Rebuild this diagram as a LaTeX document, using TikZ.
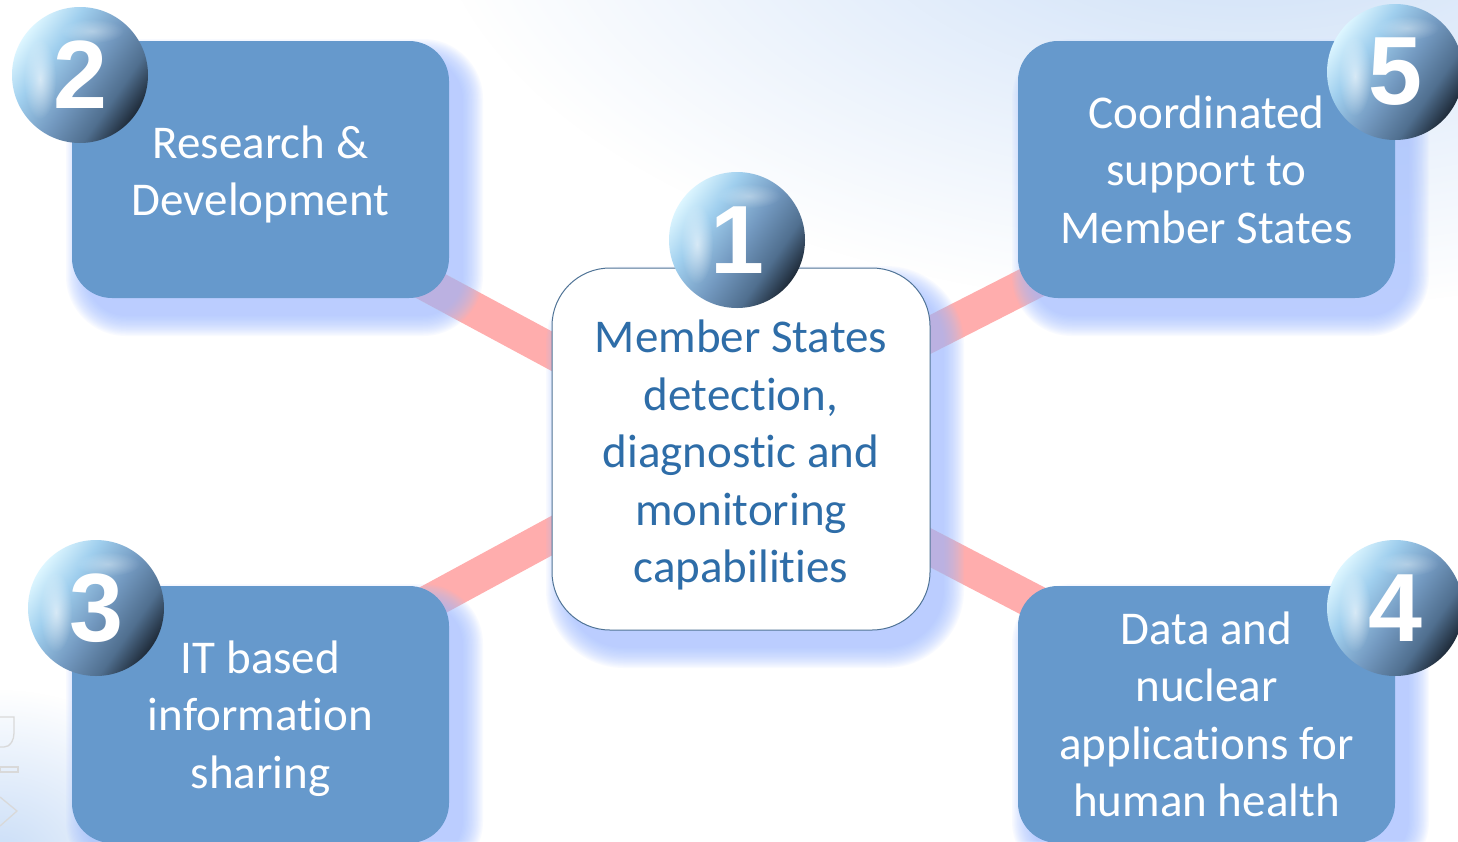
\documentclass[tikz,border=0pt]{standalone}
\usepackage{fontspec}
\setmainfont{Carlito}[Ligatures={NoCommon}]
\newfontfamily\numfont{Liberation Sans}
\usetikzlibrary{fadings}
\tikzfading[name=radfade, inner color=transparent!0, outer color=transparent!100]
\definecolor{boxblue}{HTML}{6699CC}
\definecolor{txtblue}{HTML}{2E6DA8}
\definecolor{edgeblue}{HTML}{4F7396}
\definecolor{glowblue}{HTML}{A3BFFF}
\definecolor{linkpink}{HTML}{FFADAD}
\definecolor{bgblue}{HTML}{C9DDF7}
\definecolor{orbA}{HTML}{DDF6FF}
\definecolor{orbB}{HTML}{A0CFEE}
\definecolor{orbC}{HTML}{7399C0}
\definecolor{orbD}{HTML}{506F8F}
\definecolor{orbE}{HTML}{1E2A38}
\pgfdeclarehorizontalshading{orbshade}{100bp}{color(0bp)=(orbA); color(25bp)=(orbA); color(37bp)=(orbB); color(52bp)=(orbC); color(65bp)=(orbD); color(75bp)=(orbE); color(100bp)=(orbE)}
\pgfdeclarelayer{bgl}
\pgfdeclarelayer{conn}
\pgfdeclarelayer{glow}
\pgfsetlayers{bgl,conn,glow,main}
\tikzset{
  outerbox/.style={draw=none, fill=boxblue, rounded corners=40pt, minimum width=377pt, minimum height=257pt, inner sep=0pt},
  centerbox/.style={draw=edgeblue, line width=1pt, fill=white, rounded corners=58pt, minimum width=378pt, minimum height=362pt, inner sep=0pt},
  boxtext/.style={text=white, align=center, font=\fontsize{47}{57.5}\selectfont, inner sep=0pt},
  centertext/.style={boxtext, text=txtblue},
  orb/.style={circle, minimum size=136pt, inner sep=0pt, shading=orbshade, shading angle=-35, text=white, font=\numfont\bfseries\fontsize{97}{97}\selectfont},
  link/.style={linkpink, line width=35pt},
  gloss/.style={white, path fading=radfade}
}
\newcommand{\glowrect}[5]{% x1 y1 x2 y2 radius
  \foreach \i in {0,...,16}{
    \fill[glowblue, opacity=0.065, rounded corners={#5pt+\i*1.25pt}]
      ({#1+14-\i*1.25},{#2+18-\i*1.25}) rectangle ({#3+14+\i*1.25},{#4+18+\i*1.25});
  }}
\newcommand{\orbgloss}[1]{%
  \fill[gloss, opacity=0.6] ([xshift=-40pt,yshift=-4pt]#1.center) ellipse (16pt and 40pt);
  \fill[gloss, opacity=0.35] ([xshift=12pt,yshift=44pt]#1.center) ellipse (32pt and 12pt);
}
\begin{document}
\begin{tikzpicture}[x=1pt,y=-1pt]
\useasboundingbox (0,0) rectangle (1458,841);
\begin{pgfonlayer}{bgl}
  \fill[white] (0,0) rectangle (1458,841);
  \fill[bgblue, path fading=radfade] (1250,-120) ellipse (820pt and 430pt);
  \fill[bgblue, path fading=radfade] (0,860) ellipse (200pt and 170pt);
\end{pgfonlayer}

% boxes
\node[outerbox] (b2) at (260.5,169.5) {};
\node[outerbox] (b5) at (1206.5,169.5) {};
\node[outerbox] (b3) at (260.5,714.5) {};
\node[outerbox] (b4) at (1206.5,714.5) {};
\node[centerbox] (c1) at (741,449) {};

% texts
\node[boxtext] (t2) at ([yshift=-5pt]b2.center) {Research \&\\Development};
\node[boxtext] (t5) at (b5.center) {Coordinated\\support to\\Member States};
\node[boxtext] (t3) at ([yshift=-4pt]b3.center) {IT based\\information\\sharing};
\node[boxtext] (t4) at (b4.center) {Data and\\nuclear\\applications for\\human health};
\node[centertext] (t1) at ([yshift=-6pt]c1.center) {Member States\\detection,\\diagnostic and\\monitoring\\capabilities};

% spheres
\node[orb] (s2) at (80,75) {2};
\node[orb] (s1) at (737,240) {1};
\node[orb] (s5) at (1395,72) {5};
\node[orb] (s3) at (96,608) {3};
\node[orb] (s4) at (1395,608) {4};
\orbgloss{s2}\orbgloss{s1}\orbgloss{s5}\orbgloss{s3}\orbgloss{s4}

% glows
\begin{pgfonlayer}{glow}
  \glowrect{72}{41}{449}{298}{40}
  \glowrect{1018}{41}{1395}{298}{40}
  \glowrect{72}{586}{449}{843}{40}
  \glowrect{1018}{586}{1395}{843}{40}
  \glowrect{552}{268}{930}{630}{58}
\end{pgfonlayer}

% connectors
\begin{pgfonlayer}{conn}
  \draw[link] ([yshift=-25pt]b2.center) -- ([yshift=-4pt]c1.center);
  \draw[link] ([yshift=21pt]b3.center) -- ([yshift=16pt]c1.center);
  \draw[link] ([yshift=-24pt]b5.center) -- ([yshift=18pt]c1.center);
  \draw[link] ([yshift=23pt]b4.center) -- (c1.center);
\end{pgfonlayer}

% cut-off fragments at the left edge
\draw[gray!30, line width=1.3pt] (0,717) -- (14,717) -- (14,733) to[out=-90,in=0] (4,747) -- (0,747);
\draw[gray!30, line width=1.3pt] (0,767) rectangle (18,772);
\draw[gray!30, line width=1.3pt] (0,797) -- (17,811) -- (0,826);
\end{tikzpicture}
\end{document}
